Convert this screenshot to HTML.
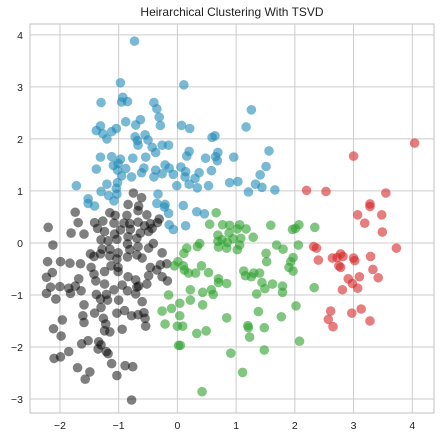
<!DOCTYPE html>
<html><head><meta charset="utf-8"><style>
html,body{margin:0;padding:0;background:#fff;}
svg{display:block;font-family:"Liberation Sans",sans-serif;}
</style></head><body>
<svg id="chart" width="441" height="444"></svg>
<script>
const blueX=[-0.73,-0.97,0.11,-1.30,-0.93,-0.95,-0.85,-0.40,-0.35,-0.31,-0.29,-0.63,-0.71,-0.88,-1.04,-1.12,-1.31,-1.38,-1.27,-1.20,0.07,0.21,0.59,0.64,-0.72,-0.68,-0.67,-0.55,-0.50,-0.43,-0.37,-0.26,-0.15,-1.31,-1.12,-0.97,-1.09,-1.01,-0.88,-0.76,-0.54,-1.38,-1.02,-0.95,-0.78,-0.61,-0.57,-0.37,-0.40,-0.26,-0.21,-0.14,-0.07,0.06,0.14,0.13,0.20,0.16,0.48,0.65,0.69,0.68,0.96,0.58,0.37,0.30,0.20,0.34,0.53,0.89,1.03,-0.01,-1.72,-1.20,-1.02,-1.04,-1.30,-1.17,-1.03,-1.08,-1.52,-1.52,-1.41,-0.33,-0.35,-0.21,-0.22,-0.15,0.10,0.33,0.46,-0.14,-0.07,0.14,1.33,1.44,1.21,1.66,1.26,1.17,1.56,1.51,1.41];
const blueY=[3.88,3.08,3.04,2.70,2.80,2.71,2.72,2.70,2.58,2.42,2.26,2.37,2.27,2.33,2.20,2.14,2.25,2.16,2.10,2.00,2.26,2.20,2.03,2.06,2.04,1.97,1.88,2.08,1.98,1.84,1.74,1.88,1.88,1.65,1.66,1.61,1.49,1.53,1.43,1.63,1.65,1.42,1.40,1.29,1.27,1.35,1.44,1.40,1.27,1.33,1.50,1.44,1.32,1.46,1.37,1.27,1.76,1.67,1.63,1.66,1.74,1.58,1.65,1.39,1.35,1.24,1.13,1.06,1.10,1.16,1.18,1.10,1.10,1.13,1.16,1.05,0.99,0.91,0.94,0.81,0.85,0.76,0.71,0.94,0.76,0.74,0.69,0.57,0.72,0.60,0.56,0.35,0.26,0.33,1.13,1.07,0.98,1.02,2.56,2.23,1.77,1.47,1.31];
const blackX=[-0.75,-0.61,-0.84,-0.66,-0.67,-1.74,-1.15,-1.06,-0.86,-0.52,-0.31,-2.20,-1.69,-1.41,-1.27,-1.08,-0.91,-0.81,-0.67,-0.56,-0.46,-0.34,-1.81,-1.59,-1.36,-1.24,-1.07,-0.97,-0.80,-0.63,-0.49,-0.43,-1.30,-1.18,-1.03,-0.84,-0.69,-2.12,-1.28,-1.15,-0.85,-0.81,-0.67,-0.49,-0.41,-0.26,-1.48,-1.42,-1.31,-1.15,-1.01,-1.03,-0.85,-0.69,-0.60,-2.21,-1.99,-1.83,-1.65,-1.47,-1.24,-1.13,-1.01,-1.01,-0.46,-0.35,-0.29,-0.18,-2.13,-2.23,-1.68,-1.42,-1.39,-0.84,-0.71,-0.49,-0.26,-0.17,-2.16,-2.00,-1.85,-1.74,-1.64,-1.82,-2.23,-1.24,-1.08,-0.94,-0.85,-0.69,-0.52,-0.66,-0.71,-2.07,-1.38,-1.21,-1.31,-1.19,-1.00,-0.60,-1.59,-1.30,-0.90,-1.41,-1.03,-0.78,-0.67,-0.57,-0.55,-1.61,-1.96,-1.59,-1.26,-1.22,-2.11,-1.24,-1.15,-0.94,-0.54,-1.98,-1.63,-1.52,-1.34,-1.30,-1.35,-1.21,-1.18,-1.85,-2.10,-1.99,-1.12,-0.89,-0.76,-1.70,-1.49,-1.57,-1.03,-0.78];
const blackY=[0.96,0.87,0.74,0.71,0.62,0.59,0.58,0.53,0.53,0.54,0.46,0.30,0.39,0.39,0.42,0.38,0.38,0.37,0.40,0.33,0.37,0.39,0.19,0.17,0.28,0.22,0.17,0.25,0.26,0.19,0.22,0.28,0.06,0.04,0.07,0.12,0.09,-0.04,-0.12,-0.12,-0.02,-0.13,-0.07,-0.10,-0.01,-0.19,-0.21,-0.26,-0.21,-0.25,-0.19,-0.31,-0.27,-0.23,-0.29,-0.36,-0.36,-0.39,-0.40,-0.47,-0.55,-0.44,-0.47,-0.55,-0.47,-0.52,-0.42,-0.40,-0.57,-0.66,-0.69,-0.60,-0.73,-0.65,-0.71,-0.63,-0.65,-0.73,-0.85,-0.84,-0.87,-0.83,-0.92,-0.97,-0.97,-0.79,-0.90,-0.81,-0.92,-0.85,-0.79,-0.83,-0.98,-1.08,-0.99,-0.99,-1.08,-1.10,-1.10,-1.13,-1.19,-1.24,-1.30,-1.35,-1.35,-1.40,-1.38,-1.34,-1.45,-1.40,-1.48,-1.53,-1.45,-1.56,-1.65,-1.69,-1.71,-1.66,-1.60,-1.79,-1.94,-1.88,-1.90,-1.96,-2.04,-2.09,-2.13,-2.09,-2.22,-2.19,-2.32,-2.36,-2.38,-2.40,-2.48,-2.62,-2.55,-3.02];
const greenX=[0.66,0.55,0.77,0.89,1.06,1.17,1.02,1.59,0.69,0.88,0.95,1.08,1.29,0.69,0.76,0.85,0.70,0.84,1.02,1.06,0.38,0.34,0.16,0.11,1.96,2.01,2.07,2.34,1.69,1.80,2.06,1.51,1.52,1.97,1.93,1.90,1.97,0.01,-0.05,0.10,0.12,0.19,0.31,0.41,0.53,1.13,1.16,1.26,1.30,1.40,0.70,0.70,0.84,1.44,1.62,1.49,1.79,1.79,1.35,2.33,0.22,0.43,0.58,0.61,-0.15,0.22,0.04,0.43,-0.10,-0.26,1.38,2.02,0.84,1.77,0.04,-0.21,0.00,0.09,1.20,1.21,1.48,0.33,0.49,1.23,2.08,0.02,0.05,0.91,1.48,1.11,0.42];
const greenY=[0.58,0.36,0.35,0.34,0.35,0.27,0.27,0.34,0.15,0.19,0.08,0.09,0.11,0.03,0.06,0.01,-0.08,-0.10,-0.13,-0.04,-0.01,-0.07,-0.10,-0.20,0.26,0.28,0.35,0.30,-0.04,-0.12,-0.04,-0.20,-0.36,-0.28,-0.36,-0.47,-0.54,-0.36,-0.44,-0.44,-0.52,-0.58,-0.58,-0.44,-0.57,-0.54,-0.63,-0.65,-0.58,-0.58,-0.69,-0.76,-0.78,-0.76,-0.79,-0.88,-0.83,-0.95,-0.98,-0.86,-0.90,-0.95,-0.90,-0.99,-1.00,-1.10,-1.16,-1.19,-1.26,-1.31,-1.32,-1.21,-1.44,-1.42,-1.40,-1.56,-1.60,-1.60,-1.59,-1.63,-1.63,-1.74,-1.69,-1.81,-1.89,-1.97,-1.97,-2.12,-2.06,-2.49,-2.86];
const redX=[2.20,2.53,3.55,3.28,3.28,3.07,3.48,3.19,3.49,3.73,2.32,2.37,2.40,2.64,2.72,2.78,2.82,2.75,2.78,3.00,3.02,3.29,3.33,2.91,3.10,3.42,2.98,3.07,2.81,2.61,2.57,2.65,2.97,3.13,3.28,3.00,4.04];
const redY=[1.01,0.99,0.96,0.75,0.70,0.54,0.54,0.38,0.21,-0.10,-0.07,-0.10,-0.33,-0.29,-0.28,-0.21,-0.26,-0.44,-0.47,-0.29,-0.34,-0.26,-0.51,-0.69,-0.65,-0.67,-0.78,-0.87,-0.90,-1.31,-1.47,-1.61,-1.35,-1.27,-1.50,1.67,1.92];
const xTicks=[-2,-1,0,1,2,3,4];
const yTicks=[-3,-2,-1,0,1,2,3,4];

const NS='http://www.w3.org/2000/svg';
const svg=document.getElementById('chart');
const L=30,R=434,T=24,B=413;
const xMin=-2.51,xMax=4.37,yMin=-3.27,yMax=4.21;
function sx(v){return L+(v-xMin)/(xMax-xMin)*(R-L);}
function sy(v){return B-(v-yMin)/(yMax-yMin)*(B-T);}
function mk(tag,attrs){const e=document.createElementNS(NS,tag);for(const k in attrs)e.setAttribute(k,attrs[k]);svg.appendChild(e);return e;}

const bg=mk('rect',{x:L,y:T,width:R-L,height:B-T,fill:'#fff'});


xTicks.forEach(t=>{
  const g=mk('line',{x1:sx(t),x2:sx(t),y1:T,y2:B,stroke:'#cccccc','stroke-width':1});
  
  
  const lb=mk('text',{x:sx(t),y:B+16,'text-anchor':'middle','font-size':10.5,fill:'#222'});
  lb.textContent=(t<0?'\u2212'+(-t):t);
  
  
});
yTicks.forEach(t=>{
  const g=mk('line',{x1:L,x2:R,y1:sy(t),y2:sy(t),stroke:'#cccccc','stroke-width':1});
  
  
  const lb=mk('text',{x:L-7,y:sy(t)+4,'text-anchor':'end','font-size':10.5,fill:'#222'});
  lb.textContent=(t<0?'\u2212'+(-t):t);
  
  
});
function series(xs,ys,color,op,name){
  xs.forEach((v,i)=>{
    const c=mk('circle',{cx:sx(v),cy:sy(ys[i]),r:4.8,fill:color,'fill-opacity':op});
    
    
  });
}
series(blackX,blackY,'#000000',0.5,'cluster-black-point');
series(greenX,greenY,'#2ca02c',0.6,'cluster-green-point');
series(redX,redY,'#d62728',0.6,'cluster-red-point');
series(blueX,blueY,'#1f8ab8',0.6,'cluster-blue-point');
const fr=mk('rect',{x:L,y:T,width:R-L,height:B-T,fill:'none',stroke:'#cccccc','stroke-width':1.2});


const ti=mk('text',{x:(L+R)/2,y:16,'text-anchor':'middle','font-size':12,fill:'#222'});
ti.textContent='Heirarchical Clustering With TSVD';


</script>
</body></html>
